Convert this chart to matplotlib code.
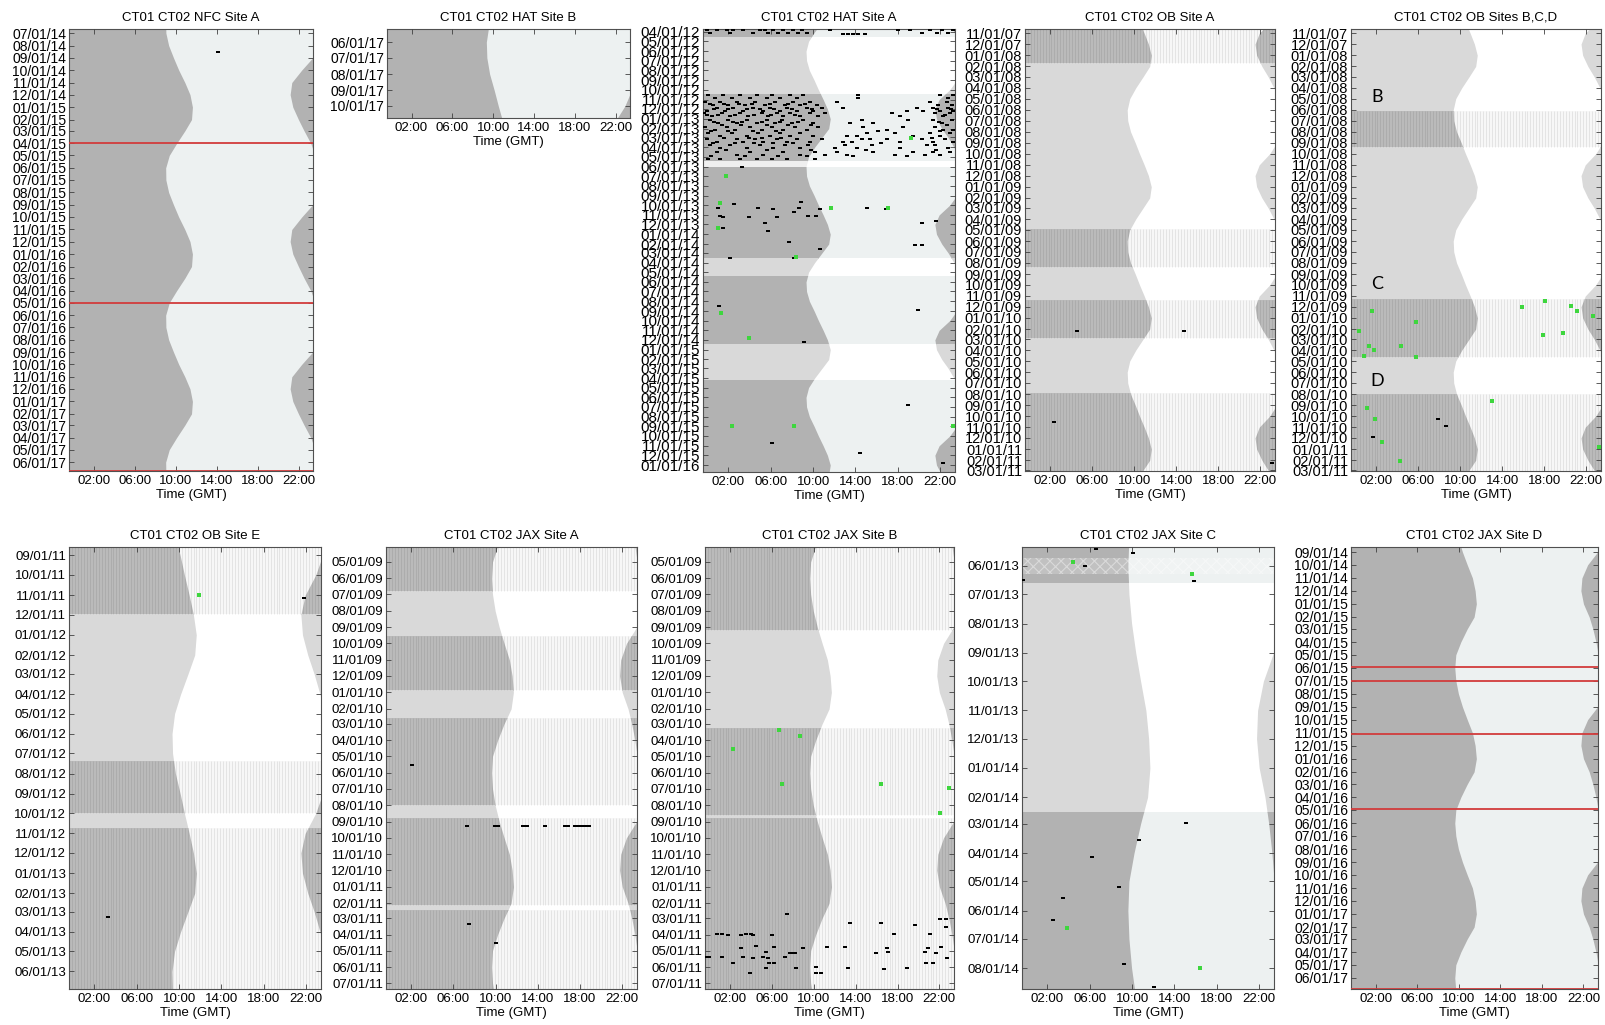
import numpy as np
import pandas as pd
import matplotlib
matplotlib.use("Agg")
import matplotlib.pyplot as plt
import matplotlib.dates as mdates
from matplotlib import patches

plt.rcParams["font.family"] = ["Liberation Sans", "DejaVu Sans"]
plt.rcParams["hatch.linewidth"] = 0.8

# sunrise / sunset in hours GMT on the 1st of each month (Jan..Dec)
SUNRISE_NFC = [11.64, 11.55, 10.90, 10.10, 9.38, 9.03, 9.05, 9.32, 9.80, 10.30, 10.90, 11.40]
SUNSET_NFC = [21.43, 21.98, 22.53, 23.18, 23.60, 24.00, 24.00, 23.70, 23.35, 22.30, 21.33, 21.17]
SUNRISE_MID = [11.62, 11.47, 10.84, 10.14, 9.57, 9.33, 9.38, 9.65, 10.10, 10.50, 10.95, 11.35]
SUNSET_MID = [21.65, 22.15, 22.75, 23.30, 23.80, 24.10, 24.10, 23.85, 23.55, 22.90, 21.90, 21.50]
SUNRISE_JAX = [11.68, 11.46, 10.80, 10.18, 9.70, 9.60, 9.70, 9.95, 10.34, 10.80, 11.30, 11.56]
SUNSET_JAX = [22.00, 22.55, 22.90, 23.20, 23.42, 23.80, 23.90, 23.60, 23.35, 22.40, 21.85, 21.75]

HOUR_TICKS = [2, 6, 10, 14, 18, 22]
HOUR_LABELS = ["02:00", "06:00", "10:00", "14:00", "18:00", "22:00"]

# ---- NFC Site A
NFC_A_SPAN = ("2014-06-21", "2017-06-23")
NFC_A_BANDS = [("2014-06-21", "2017-06-23", "rec")]
NFC_A_RED = ["2015-04-01", "2016-05-01", "2017-06-22"]
NFC_A_BLACK = [("2014-08-17", 14.16)]

# ---- HAT Site B
HAT_B_SPAN = ("2017-05-07", "2017-10-24")
HAT_B_BANDS = [("2017-05-07", "2017-10-24", "rec")]

# ---- HAT Site A
HAT_A_SPAN = ("2012-03-23", "2016-01-23")
HAT_A_BANDS = [
    ("2012-03-23", "2012-04-16", "rec"),
    ("2012-04-16", "2012-10-15", "off"),
    ("2012-10-15", "2013-05-14", "rec"),
    ("2013-05-14", "2013-06-02", "blank"),
    ("2013-06-02", "2014-03-16", "rec"),
    ("2014-03-16", "2014-05-13", "off"),
    ("2014-05-13", "2014-12-13", "rec"),
    ("2014-12-13", "2015-04-07", "off"),
    ("2015-04-07", "2016-01-23", "rec"),
]
HAT_A_ROW_DATES = [
    "2012-03-27", "2012-04-04", "2012-04-09",
    "2012-10-19", "2012-10-27", "2012-11-09", "2012-11-14", "2012-11-18", "2012-11-28",
    "2012-12-02", "2012-12-06", "2012-12-15", "2012-12-20", "2012-12-24",
    "2013-01-05", "2013-01-10", "2013-01-14", "2013-01-22", "2013-01-27",
    "2013-02-04", "2013-02-10", "2013-02-15", "2013-02-24",
    "2013-03-02", "2013-03-06", "2013-03-14", "2013-03-20", "2013-03-26",
    "2013-04-04", "2013-04-10", "2013-04-16", "2013-04-25", "2013-04-30", "2013-05-07",
]
HAT_A_ROW_HOURS = [
    [-0.05, 0.89, 1.83, 2.46, 3.41, 4.98, 5.45, 6.24, 7.19, 8.13, 8.92, 11.6, 18.05, 19.15, 21.04, 22.14, 23.24],
    [0.26, 2.15, 4.35, 5.77, 6.72, 7.66, 8.6, 9.39, 20.25, 21.67, 22.77],
    [12.85, 13.3, 13.8, 14.25, 14.9],
    [0.10, 1.52, 3.09, 4.67, 6.08, 7.82, 9.07, 14.27, 21.98, 23.24],
    [0.73, 2.31, 4.04, 5.61, 6.87, 8.45, 14.27, 22.77],
    [-0.21, 1.21, 2.78, 4.51, 6.40, 8.13, 9.70, 12.22, 21.04, 22.61],
    [0.3, 1.6, 3.0, 4.2, 5.9, 7.6, 9.2],
    [0.58, 1.99, 3.57, 5.45, 7.34, 8.76, 10.33, 21.82, 23.08],
    [0.89, 2.46, 4.35, 5.93, 7.50, 9.39, 10.81, 12.85, 19.78, 21.35, 22.77],
    [0.6, 2.0, 3.8, 5.0, 6.3, 8.0, 9.9, 21.7, 23.0],
    [-0.05, 1.68, 3.41, 5.30, 6.87, 8.45, 10.02, 18.83, 20.41, 21.98, 23.24],
    [-0.3, 1.36, 3.09, 5.14, 6.56, 7.82, 9.70, 11.12, 17.42, 21.51, 22.92],
    [0.0, 1.0, 2.6, 4.4, 6.0, 8.3, 22.5],
    [0.42, 2.15, 3.88, 5.77, 7.19, 8.76, 10.49, 18.2, 22.3],
    [0.26, 1.99, 3.72, 5.61, 7.03, 9.07, 14.58, 18.99, 21.35, 23.08],
    [0.6, 2.4, 3.3, 5.2, 6.9, 8.6, 21.9],
    [1.05, 2.78, 4.67, 6.40, 7.97, 10.02, 13.48, 15.69, 22.14],
    [1.4, 3.2, 5.6, 7.6, 9.8, 22.6],
    [-0.21, 1.83, 4.04, 6.08, 8.29, 10.49, 14.74, 18.52, 21.51],
    [0.73, 2.62, 5.14, 7.19, 9.39, 16.94, 22.30, 23.24],
    [0.4, 2.0, 4.3, 6.5, 16.1, 22.0],
    [0.10, 2.31, 4.82, 6.87, 8.76, 15.05, 17.73, 21.04, 22.92],
    [1.21, 3.72, 5.93, 7.82, 10.02, 13.17, 14.11, 19.46, 21.98],
    [1.6, 3.9, 5.2, 7.0, 21.2],
    [-0.05, 2.78, 4.51, 6.56, 8.45, 10.81, 14.58, 15.37, 16.94, 20.25, 22.45],
    [0.89, 3.41, 5.30, 7.50, 9.70, 12.85, 13.64, 18.20, 21.35, 23.24],
    [0.5, 2.6, 4.4, 6.2, 8.1, 16.4],
    [0.26, 2.15, 4.98, 7.34, 9.55, 13.01, 15.53, 20.72, 21.51],
    [1.21, 3.72, 6.24, 8.76, 12.06, 14.11, 18.20, 22.77],
    [1.8, 5.6, 9.8, 15.0, 21.6],
    [0.89, 4.04, 7.19, 10.18, 12.22, 15.69, 19.46, 21.35, 22.92],
    [2.78, 5.30, 8.76, 11.12, 13.17, 17.73, 20.56, 21.98],
    [0.4, 3.6, 6.7, 9.4, 13.8, 18.9],
    [0.10, 1.21, 3.09, 4.67, 6.08, 7.50, 10.18],
]
HAT_A_BLACK = [
    ("2013-06-04", 3.25), ("2013-09-28", 2.53), ("2013-10-11", 1.06), ("2013-10-11", 4.82),
    ("2013-10-12", 6.18), ("2013-09-22", 8.83), ("2013-10-11", 8.7), ("2013-10-23", 8.16),
    ("2013-10-12", 10.65), ("2013-11-07", 3.94), ("2013-11-06", 6.55), ("2013-11-03", 9.52),
    ("2013-11-03", 10.24), ("2013-11-03", 1.2), ("2013-11-07", 1.45), ("2013-10-11", 15.1),
    ("2013-10-13", 16.9), ("2013-12-13", 1.5), ("2013-11-25", 5.43), ("2013-12-22", 5.74),
    ("2013-11-25", 20.3), ("2013-11-20", 21.6), ("2014-01-27", 7.76), ("2014-02-17", 10.65),
    ("2014-02-04", 19.6), ("2014-02-05", 20.3), ("2014-03-16", 2.15), ("2014-03-17", 8.16),
    ("2014-08-15", 1.12), ("2014-08-28", 19.9), ("2014-12-07", 9.1), ("2015-06-24", 18.96),
    ("2015-10-22", 6.1), ("2015-11-25", 14.47), ("2015-12-25", 22.3),
]
HAT_A_GREEN = [
    ("2013-03-03", 19.2), ("2013-06-30", 1.77), ("2013-09-24", 1.2), ("2013-10-11", 11.66),
    ("2013-10-11", 17.1), ("2013-12-12", 1.06), ("2014-03-15", 8.35), ("2014-09-07", 1.3),
    ("2014-11-26", 3.9), ("2015-09-01", 2.37), ("2015-09-01", 8.2), ("2015-09-01", 23.2),
]

# ---- OB Site A
OB_SPAN = ("2007-10-20", "2011-03-03")
OB_A_BANDS = [
    ("2007-10-20", "2008-01-23", "rec_s"),
    ("2008-01-23", "2009-04-28", "off"),
    ("2009-04-28", "2009-08-13", "rec_s"),
    ("2009-08-13", "2009-11-13", "off"),
    ("2009-11-13", "2010-02-27", "rec_s"),
    ("2010-02-27", "2010-07-28", "off"),
    ("2010-07-28", "2011-03-03", "rec_s"),
]
OB_A_BLACK = [("2010-02-07", 4.52), ("2010-02-06", 14.77), ("2010-10-19", 2.39), ("2011-02-09", 23.1)]

# ---- OB Sites B, C, D
OB_BCD_BANDS = [
    ("2007-10-20", "2008-06-04", "off"),
    ("2008-06-04", "2008-09-13", "rec_s"),
    ("2008-09-13", "2009-11-10", "off"),
    ("2009-11-10", "2010-04-19", "rec_s"),
    ("2010-04-19", "2010-08-01", "off"),
    ("2010-08-01", "2011-03-03", "rec_s"),
]
OB_BCD_GREEN = [
    ("2009-12-12", 1.6), ("2010-02-07", 0.33), ("2010-01-13", 5.79), ("2010-03-19", 1.28),
    ("2010-03-30", 1.8), ("2010-04-16", 0.86), ("2010-03-20", 4.35), ("2010-04-19", 5.79),
    ("2009-12-01", 15.86), ("2009-11-16", 18.11), ("2009-11-28", 20.55), ("2009-12-12", 21.1),
    ("2009-12-28", 22.6), ("2010-02-17", 17.86), ("2010-02-13", 19.83), ("2010-08-19", 13.06),
    ("2010-09-08", 1.09), ("2010-10-10", 1.88), ("2010-12-13", 2.55), ("2011-02-03", 4.26),
    ("2010-12-25", 23.2),
]
OB_BCD_BLACK = [("2010-10-10", 7.91), ("2010-10-28", 8.64), ("2010-11-28", 1.73)]
OB_BCD_SITES = [("B", "2008-04-26"), ("C", "2009-09-28"), ("D", "2010-06-25")]

# ---- OB Site E
OB_E_SPAN = ("2011-08-19", "2013-06-28")
OB_E_BANDS = [
    ("2011-08-19", "2011-11-30", "rec_s"),
    ("2011-11-30", "2012-07-13", "off"),
    ("2012-07-13", "2012-09-30", "rec_s"),
    ("2012-09-30", "2012-10-24", "off"),
    ("2012-10-24", "2013-06-28", "rec_s"),
]
OB_E_GREEN = [("2011-10-31", 11.9)]
OB_E_BLACK = [("2011-11-05", 21.8), ("2013-03-10", 3.31)]

# ---- JAX Sites A, B
JAX_AB_SPAN = ("2009-04-03", "2011-07-12")
JAX_A_BANDS = [
    ("2009-04-03", "2009-06-25", "rec_s"),
    ("2009-06-25", "2009-09-18", "off"),
    ("2009-09-18", "2009-12-28", "rec_s"),
    ("2009-12-28", "2010-02-19", "off"),
    ("2010-02-19", "2010-08-01", "rec_s"),
    ("2010-08-01", "2010-08-25", "off"),
    ("2010-08-25", "2011-02-04", "rec_s"),
    ("2011-02-04", "2011-02-13", "off"),
    ("2011-02-13", "2011-07-12", "rec_s"),
]
JAX_A_BLACK = [
    ("2010-05-17", 2.03),
    ("2010-09-09", 7.25), ("2010-09-09", 9.94), ("2010-09-09", 10.26), ("2010-09-09", 12.63),
    ("2010-09-09", 12.95), ("2010-09-09", 14.72), ("2010-09-09", 16.59), ("2010-09-09", 16.9),
    ("2010-09-09", 17.53), ("2010-09-09", 17.85), ("2010-09-09", 18.17), ("2010-09-09", 18.48),
    ("2010-09-09", 18.89),
    ("2011-03-12", 7.5), ("2011-04-16", 9.99),
]
JAX_B_BANDS = [
    ("2009-04-03", "2009-09-06", "rec_s"),
    ("2009-09-06", "2010-03-08", "off"),
    ("2010-03-08", "2010-08-20", "rec_s"),
    ("2010-08-20", "2010-08-25", "off"),
    ("2010-08-25", "2011-07-12", "rec_s"),
]
JAX_B_GREEN = [
    ("2010-03-12", 6.67), ("2010-03-23", 8.67), ("2010-04-18", 2.23), ("2010-06-22", 7.0),
    ("2010-06-22", 16.4), ("2010-06-30", 22.9), ("2010-08-16", 22.1),
]
JAX_B_BLACK = [
    ("2011-02-22", 7.47), ("2011-03-10", 13.42), ("2011-03-10", 16.38), ("2011-03-13", 19.63),
    ("2011-03-02", 22.08), ("2011-03-03", 22.6), ("2011-03-18", 22.6),
    ("2011-03-30", 0.72), ("2011-03-30", 1.26), ("2011-04-01", 1.77), ("2011-04-01", 3.02),
    ("2011-03-30", 3.5), ("2011-03-30", 4.0), ("2011-04-01", 4.23), ("2011-04-01", 5.98),
    ("2011-03-30", 17.7), ("2011-03-30", 21.1),
    ("2011-04-26", 3.02), ("2011-04-22", 4.49), ("2011-04-24", 6.24), ("2011-04-26", 9.01),
    ("2011-04-25", 11.24), ("2011-04-24", 12.99), ("2011-04-26", 16.97), ("2011-04-26", 20.96),
    ("2011-04-25", 22.17),
    ("2011-05-03", 5.47), ("2011-05-03", 17.07), ("2011-05-03", 20.6), ("2011-05-05", 21.65),
    ("2011-05-06", 7.68), ("2011-05-06", 7.92), ("2011-05-06", 8.16), ("2011-05-06", 15.93),
    ("2011-05-13", -0.3), ("2011-05-13", 0.0), ("2011-05-13", 1.26), ("2011-05-13", 3.27),
    ("2011-05-14", 4.23), ("2011-05-13", 5.18), ("2011-05-14", 5.66), ("2011-05-13", 7.25),
    ("2011-05-14", 22.7),
    ("2011-05-25", 2.23), ("2011-05-24", 5.72), ("2011-05-24", 6.24), ("2011-05-24", 20.68),
    ("2011-05-24", 21.41),
    ("2011-06-03", 5.47), ("2011-06-03", 8.3), ("2011-06-01", 10.2), ("2011-06-03", 13.3),
    ("2011-06-04", 16.7), ("2011-06-03", 18.95),
    ("2011-06-12", 3.9), ("2011-06-12", 10.2), ("2011-06-12", 10.68),
]

# ---- JAX Site C
JAX_C_SPAN = ("2013-05-12", "2014-08-23")
JAX_C_BANDS = [
    ("2013-05-12", "2013-06-19", "rec"),
    ("2013-06-19", "2014-02-17", "off"),
    ("2014-02-17", "2014-08-23", "rec"),
]
JAX_C_HATCH = ("2013-05-24", "2013-06-10")
JAX_C_BLACK = [
    ("2013-05-14", 6.56), ("2013-05-18", 10.12), ("2013-06-01", 5.54), ("2013-06-16", -0.28),
    ("2013-06-17", 15.86), ("2014-02-28", 15.07), ("2014-03-18", 10.67), ("2014-04-05", 6.2),
    ("2014-05-07", 8.78), ("2014-05-19", 3.5), ("2014-06-11", 2.5), ("2014-07-27", 9.19),
    ("2014-08-21", 12.1),
]
JAX_C_GREEN = [("2013-05-28", 4.4), ("2013-06-10", 15.7), ("2014-06-19", 3.82), ("2014-08-01", 16.4)]

# ---- JAX Site D
JAX_D_SPAN = ("2014-08-20", "2017-06-27")
JAX_D_BANDS = [("2014-08-20", "2017-06-27", "rec")]
JAX_D_RED = ["2015-05-29", "2015-07-01", "2015-11-04", "2016-04-28", "2017-06-26"]


BAND_COLOURS = {
    "rec": ("#b2b2b2", "#edf1f1"),
    "rec_s": ("#bababa", "#f7f7f7"),
    "off": ("#d9d9d9", "#ffffff"),
    "blank": ("#efefef", "#ffffff"),
}
X0, X1 = -0.4, 23.4
DASH = [(-1, -0.62), (1, -0.62), (1, 0.62), (-1, 0.62), (-1, -0.62)]
W, H = 1606, 1025


def dn(s):
    return mdates.datestr2num(s)


def plot_dots(ax, pts, colour):
    if not pts:
        return
    dates, hours = zip(*pts)
    if colour == "k":
        ax.plot(hours, [dn(s) for s in dates], ls="none", marker=DASH, ms=3.1,
                mfc="k", mew=0, zorder=5)
    else:
        ax.plot(hours, [dn(s) for s in dates], ls="none", marker="s", ms=2.2,
                mfc="#3ed63e", mew=0, zorder=5)


def draw_panel(ax, title, span, bands, sunrise, sunset, black=(), green=(), red=(),
               ysize=10, hatch=None):
    top, bottom = dn(span[0]), dn(span[1])
    months = pd.date_range(pd.Timestamp(span[0]) - pd.offsets.MonthBegin(2),
                           pd.Timestamp(span[1]) + pd.offsets.MonthBegin(2), freq="MS")
    ys = mdates.date2num(months.to_pydatetime())
    rise = np.array(sunrise)[np.asarray(months.month) - 1]
    sset = np.array(sunset)[np.asarray(months.month) - 1]

    for b0, b1, kind in bands:
        y0, y1 = dn(b0), dn(b1)
        night, day = BAND_COLOURS[kind]
        ax.axhspan(y0, y1, color=day, lw=0, zorder=0)
        clip = patches.Rectangle((X0, y0), X1 - X0, y1 - y0, transform=ax.transData)
        for lo, hi in ((np.full_like(rise, X0 - 1), rise), (sset, np.full_like(sset, X1 + 1))):
            poly = ax.fill_betweenx(ys, lo, hi, color=night, lw=0, zorder=1)
            poly.set_clip_path(clip)
        if kind == "rec_s":
            ax.vlines(np.arange(X0, X1, 0.28), y0, y1, colors="k", alpha=0.08,
                      lw=0.7, zorder=2)

    if hatch is not None:
        h0, h1 = dn(hatch[0]), dn(hatch[1])
        ax.add_patch(patches.Rectangle((X0, h0), X1 - X0, h1 - h0, facecolor=(1, 1, 1, 0.2),
                                       edgecolor=(1, 1, 1, 0.4), hatch="xxx", lw=0, zorder=2))

    plot_dots(ax, list(black), "k")
    plot_dots(ax, list(green), "g")
    for r in red:
        ax.axhline(dn(r), color="#d23c3c", lw=1.3, zorder=6)

    ticks = pd.date_range(span[0], span[1], freq="MS")
    ax.set_yticks(mdates.date2num(ticks.to_pydatetime()))
    ax.set_yticklabels(ticks.strftime("%m/%d/%y"), fontsize=ysize)
    ax.set_ylim(bottom, top)
    ax.set_xlim(X0, X1)
    ax.set_xticks(HOUR_TICKS)
    ax.set_xticklabels(HOUR_LABELS, fontsize=9.5)
    ax.set_xlabel("Time (GMT)", fontsize=9.5, labelpad=1)
    ax.set_title(title, fontsize=9.5, pad=6)
    ax.set_axisbelow(False)
    ax.tick_params(direction="in", top=True, right=True, length=3.5, width=0.6,
                   color="#404040")
    ax.tick_params(axis="y", pad=2)
    ax.tick_params(axis="x", pad=3)
    for sp in ax.spines.values():
        sp.set_color("#505050")
        sp.set_linewidth(0.8)


def add_ax(fig, l, t, r, b):
    return fig.add_axes([l / W, 1 - b / H, (r - l) / W, (b - t) / H])


fig = plt.figure(figsize=(W / 100, H / 100), dpi=100)

ax = add_ax(fig, 69, 29, 313, 471)
draw_panel(ax, "CT01 CT02 NFC Site A", NFC_A_SPAN, NFC_A_BANDS, SUNRISE_NFC, SUNSET_NFC,
           black=NFC_A_BLACK, red=NFC_A_RED, ysize=10)

ax = add_ax(fig, 387, 29, 630, 118)
draw_panel(ax, "CT01 CT02 HAT Site B", HAT_B_SPAN, HAT_B_BANDS, SUNRISE_MID, SUNSET_MID, ysize=10)

hat_a_black = [(d, h) for d, hours in zip(HAT_A_ROW_DATES, HAT_A_ROW_HOURS) for h in hours]
ax = add_ax(fig, 703, 29, 955, 472)
draw_panel(ax, "CT01 CT02 HAT Site A", HAT_A_SPAN, HAT_A_BANDS, SUNRISE_MID, SUNSET_MID,
           black=hat_a_black + HAT_A_BLACK, green=HAT_A_GREEN, ysize=11)

ax = add_ax(fig, 1025, 29, 1275, 471)
draw_panel(ax, "CT01 CT02 OB Site A", OB_SPAN, OB_A_BANDS, SUNRISE_MID, SUNSET_MID,
           black=OB_A_BLACK, ysize=10.5)

ax = add_ax(fig, 1351, 29, 1601, 471)
draw_panel(ax, "CT01 CT02 OB Sites B,C,D", OB_SPAN, OB_BCD_BANDS, SUNRISE_MID, SUNSET_MID,
           black=OB_BCD_BLACK, green=OB_BCD_GREEN, ysize=10.5)
for letter, when in OB_BCD_SITES:
    ax.text(2.1, dn(when), letter, ha="center", va="center", fontsize=13,
            family=["Lato", "DejaVu Sans"], zorder=7)

ax = add_ax(fig, 69, 547, 321, 989)
draw_panel(ax, "CT01 CT02 OB Site E", OB_E_SPAN, OB_E_BANDS, SUNRISE_MID, SUNSET_MID,
           black=OB_E_BLACK, green=OB_E_GREEN, ysize=9.5)

ax = add_ax(fig, 386, 547, 637, 989)
draw_panel(ax, "CT01 CT02 JAX Site A", JAX_AB_SPAN, JAX_A_BANDS, SUNRISE_JAX, SUNSET_JAX,
           black=JAX_A_BLACK, ysize=9.5)

ax = add_ax(fig, 705, 547, 954, 989)
draw_panel(ax, "CT01 CT02 JAX Site B", JAX_AB_SPAN, JAX_B_BANDS, SUNRISE_JAX, SUNSET_JAX,
           black=JAX_B_BLACK, green=JAX_B_GREEN, ysize=9.5)

ax = add_ax(fig, 1022, 547, 1274, 989)
draw_panel(ax, "CT01 CT02 JAX Site C", JAX_C_SPAN, JAX_C_BANDS, SUNRISE_JAX, SUNSET_JAX,
           black=JAX_C_BLACK, green=JAX_C_GREEN, ysize=9.5, hatch=JAX_C_HATCH)

ax = add_ax(fig, 1351, 547, 1598, 989)
draw_panel(ax, "CT01 CT02 JAX Site D", JAX_D_SPAN, JAX_D_BANDS, SUNRISE_JAX, SUNSET_JAX,
           red=JAX_D_RED, ysize=10)

fig.savefig("out.png", dpi=100)
